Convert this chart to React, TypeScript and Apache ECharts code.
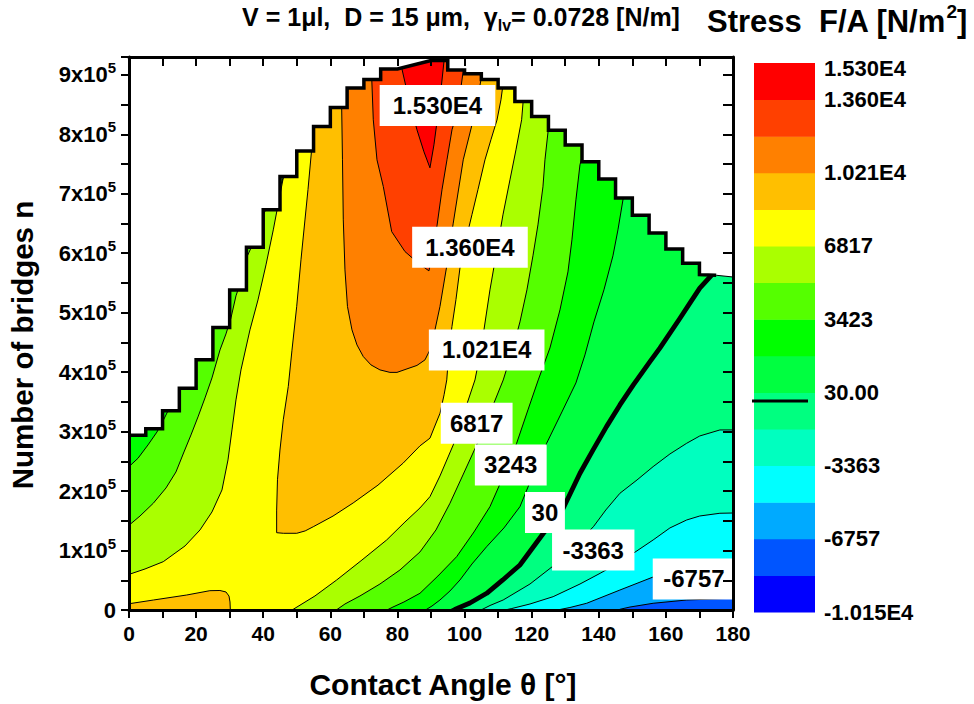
import React, { useEffect, useRef } from "react";
import * as echarts from "echarts";

type Pt = [number, number];

const FONT = "'Liberation Sans', Arial, Helvetica, sans-serif";

// ---------------- axes ----------------
const thetaRange = [0, 180];
const nRange = [0, 9.3]; // number of bridges, units of 10^5

// ---------------- colour levels (Stress F/A, N/m^2) ----------------
const levelEdges = [-10150, -8453, -6757, -5060, -3363, -1667, 30, 1727, 3423, 5120, 6817, 8513, 10210, 11907, 13603, 15300];
const bandColors = ["#0000FF", "#0055FF", "#00AAFF", "#00FFFF", "#00FFBF", "#00FF80", "#00FF40", "#00FF00", "#55FF00", "#AAFF00", "#FFFF00", "#FFBF00", "#FF8000", "#FF4000", "#FF0000"];
const colorbarTickValues = [15300, 13603, 10210, 6817, 3423, 30, -3363, -6757, -10150];
const colorbarTickLabels = ["1.530E4", "1.360E4", "1.021E4", "6817", "3423", "30.00", "-3363", "-6757", "-1.015E4"];

// ---------------- upper limit of the computed domain [theta, n] ----------------
const dataLimit: Pt[] = [
  [0, 2.94], [5, 2.94], [5, 3.05], [10, 3.05], [10, 3.35], [15, 3.35], [15, 3.73], [20, 3.73], [20, 4.21], [25, 4.21],
  [25, 4.75], [30, 4.75], [30, 5.38], [35, 5.38], [35, 6.1], [40, 6.1], [40, 6.73], [45, 6.73], [45, 7.29], [50, 7.29],
  [50, 7.72], [55, 7.72], [55, 8.13], [60, 8.13], [60, 8.45], [65, 8.45], [65, 8.78], [70, 8.78], [70, 8.92], [75, 8.92],
  [75, 9.1], [80, 9.1], [90, 9.24], [95, 9.24], [95, 9.08], [100, 9.08], [100, 9.02], [105, 9.02], [105, 8.92], [110, 8.92],
  [110, 8.78], [115, 8.78], [115, 8.55], [120, 8.55], [120, 8.3], [125, 8.3], [125, 8.07], [130, 8.07], [130, 7.82], [135, 7.82],
  [135, 7.54], [140, 7.54], [140, 7.25], [145, 7.25], [145, 6.93], [150, 6.93], [150, 6.64], [155, 6.64], [155, 6.34], [160, 6.34],
  [160, 6.07], [165, 6.07], [165, 5.83], [170, 5.83], [170, 5.64], [175, 5.63], [180, 5.6],
];

// ---------------- contour lines [theta, n] ----------------
const isoMinus6757: Pt[] = [[180.9, 0.202], [179.6, 0.197], [166.2, 0.168], [156.2, 0.113], [149.3, 0.05], [146.3, 0.012], [143.9, -0.05]];
const isoMinus5060: Pt[] = [[180.9, 0.808], [176.1, 0.774], [170.1, 0.707], [164.2, 0.639], [156.2, 0.555], [146.3, 0.336], [136.4, 0.113], [131.4, 0.042], [128.4, 0.008], [125.5, -0.05]];
const isoMinus3363: Pt[] = [[180.9, 1.632], [176.1, 1.627], [170.1, 1.581], [166.2, 1.514], [161.2, 1.38], [156.2, 1.178], [150.3, 0.954], [144.8, 0.757], [140.4, 0.617], [134.4, 0.437], [126.4, 0.224], [119.5, 0.101], [114.1, 0.025], [110.6, -0.017], [107.6, -0.067]];
const isoMinus1667: Pt[] = [[180.9, 3.028], [176.1, 3.028], [170.1, 2.927], [166.2, 2.804], [161.2, 2.624], [156.2, 2.411], [151.4, 2.187], [146.3, 1.963], [142.1, 1.682], [138.4, 1.401], [132.9, 1.077], [126.4, 0.74], [119.5, 0.437], [111.5, 0.168], [107.6, 0.076], [105.2, 0.008], [103.1, -0.05]];
const iso30: Pt[] = [[175.2, 5.73], [172.0, 5.53], [170.1, 5.412], [167.2, 5.165], [164.2, 4.907], [158.2, 4.403], [155.2, 4.172], [150.3, 3.785], [146.3, 3.449], [142.3, 3.084], [138.3, 2.692], [134.4, 2.3], [129.4, 1.711], [123.5, 1.29], [116.5, 0.757], [111.4, 0.505], [106.6, 0.281], [101.6, 0.118], [97.1, 0.008], [95.1, -0.05]];
const iso1727: Pt[] = [[148.39, 7.099], [147.29, 6.926], [145.71, 6.393], [144.22, 5.956], [141.54, 5.384], [138.56, 4.845], [135.88, 4.29], [133.19, 3.819], [129.02, 3.331], [124.46, 2.804], [120.38, 2.271], [116.51, 1.738], [111.74, 1.38], [106.59, 1.065], [102.21, 0.774], [98.63, 0.505], [95.65, 0.32], [92.67, 0.168], [90.29, 0.067], [88.71, 0.012], [87.01, -0.05]];
const iso3423Left: Pt[] = [[-0.5, 2.384], [2.68, 2.552], [5.66, 2.776], [8.34, 2.994], [10.13, 3.18], [11.62, 3.348], [12.81, 3.5]];
const iso3423Right: Pt[] = [[135.58, 7.739], [134.39, 7.487], [133.19, 6.898], [132.0, 6.225], [130.81, 5.686], [128.43, 5.047], [125.45, 4.408], [121.96, 3.869], [118.89, 3.365], [115.52, 2.804], [111.74, 2.271], [107.57, 1.738], [102.8, 1.312], [97.65, 0.897], [92.07, 0.572], [86.71, 0.281], [81.94, 0.135], [78.67, 0.05], [76.88, 0.0], [75.39, -0.05]];
const iso5120Left: Pt[] = [[-0.5, 1.401], [3.28, 1.581], [7.24, 1.795], [11.03, 2.052], [14.0, 2.322], [16.39, 2.658], [18.47, 2.944], [20.56, 3.247], [22.65, 3.567], [24.73, 3.903], [27.12, 4.374], [28.9, 4.643], [30.39, 4.913], [31.88, 5.283], [33.08, 5.485], [35.01, 5.922], [36.65, 6.124], [38.44, 6.393], [40.02, 6.645], [42.01, 6.881], [45.4, 7.17], [46.19, 7.318], [48.57, 7.604]];
const iso5120Right: Pt[] = [[125.75, 8.277], [124.94, 8.075], [123.96, 7.571], [123.36, 7.116], [121.87, 6.477], [120.38, 5.956], [118.59, 5.384], [116.51, 4.845], [114.12, 4.341], [111.53, 3.869], [107.57, 3.314], [103.61, 2.776], [99.52, 2.271], [95.65, 1.795], [91.48, 1.346], [86.71, 0.976], [80.75, 0.673], [74.79, 0.437], [68.83, 0.236], [64.36, 0.101], [61.98, 0.008], [60.19, -0.05]];
const iso6817Left: Pt[] = [[-0.5, 0.589], [4.77, 0.69], [10.22, 0.813], [16.69, 1.077], [21.16, 1.346], [24.73, 1.649], [27.71, 2.019], [29.5, 2.524], [30.69, 3.028], [31.88, 3.533], [33.37, 4.038], [36.05, 4.711], [38.44, 5.215], [40.82, 5.804], [43.0, 6.393], [44.7, 6.898], [45.98, 7.268], [46.48, 7.487]];
const iso6817Right: Pt[] = [[117.7, 8.715], [117.01, 8.244], [115.32, 7.739], [113.53, 7.234], [111.44, 6.645], [109.65, 6.057], [107.57, 5.384], [105.78, 4.711], [104.29, 4.206], [103.1, 3.869], [99.82, 3.314], [96.63, 2.776], [92.67, 2.254], [89.69, 1.906], [86.71, 1.716], [82.24, 1.48], [76.79, 1.178], [69.43, 0.841], [61.89, 0.505], [55.42, 0.236], [48.96, 0.012], [47.38, -0.067]];
const iso8513: Pt[] = [[54.6, 7.85], [53.34, 7.07], [52.44, 6.56], [51.25, 5.89], [49.97, 5.1], [48.57, 4.37], [47.47, 3.76], [45.98, 3.2], [44.99, 2.69], [44.25, 2.19], [44.0, 1.68], [44.0, 1.3], [46.0, 1.29], [50.0, 1.29], [52.5, 1.33], [54.9, 1.4], [60.8, 1.58], [66.8, 1.8], [74.2, 2.1], [81.7, 2.47], [86.7, 2.76], [89.7, 2.89], [90.9, 3.06], [92.7, 3.31], [93.9, 3.62], [94.7, 3.87], [95.35, 4.37], [96.25, 4.77], [97.44, 5.22], [98.63, 5.75], [100.42, 6.23], [102.21, 6.65], [104.0, 7.07], [106.08, 7.57], [107.87, 7.91], [109.66, 8.24], [110.85, 8.58], [111.44, 8.83]];
const iso8513Corner: Pt[] = [[-0.5, 0.101], [7.3, 0.168], [17.2, 0.252], [24.1, 0.325], [27.1, 0.328], [28.9, 0.303], [29.8, 0.235], [30.1, 0.135], [30.2, 0.0], [30.2, -0.05]];
const iso10210: Pt[] = [[63.3, 8.6], [63.38, 8.445], [63.62, 7.571], [63.86, 6.561], [64.36, 5.72], [65.11, 5.103], [66.45, 4.711], [67.94, 4.458], [69.82, 4.262], [72.11, 4.122], [74.79, 4.038], [77.77, 3.996], [79.86, 3.996], [82.84, 4.055], [85.82, 4.113], [88.2, 4.206], [89.69, 4.374], [91.18, 4.711], [92.67, 5.103], [94.67, 5.776], [96.63, 6.506], [99.61, 7.571], [102.59, 8.244], [103.99, 8.631], [104.89, 8.917], [105.2, 9.12]];
const iso11907: Pt[] = [[72.3, 9.0], [72.8, 8.244], [73.9, 7.571], [75.78, 7.122], [78.28, 6.364], [82.24, 6.028], [86.11, 5.838], [89.39, 5.703], [90.58, 6.057], [91.78, 6.46], [93.27, 7.066], [94.76, 7.571], [96.25, 8.075], [97.14, 8.244], [98.63, 8.664], [99.52, 9.034], [99.82, 9.15]];
const iso13603: Pt[] = [[81.1, 9.3], [81.26, 9.118], [83.43, 8.58], [85.82, 8.075], [87.9, 7.705], [89.69, 7.436], [90.88, 7.823], [92.07, 8.328], [92.97, 8.748], [93.86, 9.219], [94.0, 9.3]];

// ---------------- contour labels (text at a point on the line) ----------------
const contourLabelTexts = ["1.530E4", "1.360E4", "1.021E4", "6817", "3243", "30", "-3363", "-6757"];
const contourLabelPoints: Pt[] = [[91.93, 8.483], [101.61, 6.099], [106.59, 4.374], [103.61, 3.141], [113.77, 2.439], [123.96, 1.64], [138.35, 1.009], [168.36, 0.522]];

// ---------------- geometry helpers (closing polygons outside the plot) ----------------
const FL = -5, FR = 200, FB = -1, FT = 12;
const first = (a: Pt[]) => a[0];
const last = (a: Pt[]) => a[a.length - 1];
const rightOf = (line: Pt[]): Pt[] => [...line, [last(line)[0], FB], [FR, FB], [FR, FT], [first(line)[0], FT]];
const leftOf = (line: Pt[]): Pt[] => [...line, [last(line)[0], FB], [FL, FB], [FL, FT], [first(line)[0], FT]];
const between = (left: Pt[], right: Pt[]): Pt[] => [...left, [last(left)[0], FT], [first(right)[0], FT], ...right, [last(right)[0], FB], [FL, FB], [FL, first(left)[1]]];
const cap = (line: Pt[]): Pt[] => [...line, [last(line)[0], FT], [first(line)[0], FT]];
const corner = (line: Pt[]): Pt[] => [...line, [last(line)[0], FB], [FL, FB], [FL, first(line)[1]]];

type Shape = { kind: "poly" | "line"; pts: Pt[]; color: string; width?: number };

const plotShapes: Shape[] = [
  { kind: "poly", pts: [[FL, FB], [FR, FB], [FR, FT], [FL, FT]], color: bandColors[6] },
  { kind: "poly", pts: rightOf(iso30), color: bandColors[5] },
  { kind: "poly", pts: rightOf(isoMinus1667), color: bandColors[4] },
  { kind: "poly", pts: rightOf(isoMinus3363), color: bandColors[3] },
  { kind: "poly", pts: rightOf(isoMinus5060), color: bandColors[2] },
  { kind: "poly", pts: rightOf(isoMinus6757), color: bandColors[1] },
  { kind: "poly", pts: leftOf(iso1727), color: bandColors[7] },
  { kind: "poly", pts: between(iso3423Left, iso3423Right), color: bandColors[8] },
  { kind: "poly", pts: between(iso5120Left, iso5120Right), color: bandColors[9] },
  { kind: "poly", pts: between(iso6817Left, iso6817Right), color: bandColors[10] },
  { kind: "poly", pts: cap(iso8513), color: bandColors[11] },
  { kind: "poly", pts: corner(iso8513Corner), color: bandColors[11] },
  { kind: "poly", pts: cap(iso10210), color: bandColors[12] },
  { kind: "poly", pts: cap(iso11907), color: bandColors[13] },
  { kind: "poly", pts: cap(iso13603), color: bandColors[14] },
  ...[isoMinus6757, isoMinus5060, isoMinus3363, isoMinus1667, iso1727, iso3423Left, iso3423Right, iso5120Left, iso5120Right,
    iso6817Left, iso6817Right, iso8513, iso8513Corner, iso10210, iso11907, iso13603].map((pts) => ({ kind: "line" as const, pts, color: "#000", width: 1 })),
  { kind: "line", pts: iso30, color: "#000", width: 4.8 },
  // white mask above the computed domain
  { kind: "poly", pts: [[FL, first(dataLimit)[1]], ...dataLimit, [FR, last(dataLimit)[1]], [FR, FT], [FL, FT]], color: "#FFFFFF" },
];

const limitThick = dataLimit.filter((p) => p[0] <= 175);
const limitThin = dataLimit.filter((p) => p[0] >= 175);

export default function App() {
  const ref = useRef<HTMLDivElement>(null);

  useEffect(() => {
    if (!ref.current) return;
    const chart = echarts.init(ref.current, undefined, { renderer: "svg" });

    const cbTop = 63, cbBottom = 612, cbX = 754, cbW = 61;
    const cbY = (v: number) => cbBottom - ((v - levelEdges[0]) / (levelEdges[levelEdges.length - 1] - levelEdges[0])) * (cbBottom - cbTop);

    const colorbar: any[] = bandColors.map((c, i) => ({
      type: "rect",
      shape: { x: cbX, y: cbY(levelEdges[i + 1]), width: cbW, height: cbY(levelEdges[i]) - cbY(levelEdges[i + 1]) + 0.5 },
      style: { fill: c },
    }));
    colorbarTickValues.forEach((v, i) => {
      colorbar.push({
        type: "text",
        x: 824,
        y: cbY(v) + (i === 0 ? 5 : 0),
        style: { text: colorbarTickLabels[i], fill: "#000", fontSize: 22, fontWeight: "bold", fontFamily: FONT, align: "left", verticalAlign: "middle" },
      });
    });
    colorbar.push({ type: "line", shape: { x1: 752, y1: 401, x2: 808, y2: 401 }, style: { stroke: "#000", lineWidth: 3 } });

    const axisCommon = {
      type: "value" as const,
      z: 10,
      splitLine: { show: false },
      axisLine: { show: true, onZero: false, lineStyle: { color: "#000", width: 3 } },
    };

    const option: any = {
      animation: false,
      backgroundColor: "#fff",
      grid: { left: 129, top: 57, width: 604, height: 553, containLabel: false },
      xAxis: [
        {
          ...axisCommon,
          position: "bottom",
          min: thetaRange[0],
          max: thetaRange[1],
          interval: 10,
          axisTick: { show: true, inside: false, length: 8, lineStyle: { color: "#000", width: 2 } },
          axisLabel: {
            show: true,
            interval: 0,
            margin: 13,
            color: "#000",
            fontSize: 21,
            fontWeight: "bold",
            fontFamily: FONT,
            formatter: (v: number) => (Math.round(v) % 20 === 0 ? String(Math.round(v)) : ""),
          },
        },
        {
          ...axisCommon,
          position: "top",
          min: thetaRange[0],
          max: thetaRange[1],
          interval: 10,
          axisTick: { show: true, inside: true, length: 9, lineStyle: { color: "#000", width: 2 } },
          axisLabel: { show: false },
        },
      ],
      yAxis: [
        {
          ...axisCommon,
          position: "left",
          min: nRange[0],
          max: nRange[1],
          interval: 0.5,
          axisTick: { show: true, inside: false, length: 8, lineStyle: { color: "#000", width: 2 } },
          axisLabel: {
            show: true,
            interval: 0,
            margin: 13,
            formatter: (v: number) => {
              const r = Math.round(v);
              if (Math.abs(v - r) > 1e-6 || r > 9) return "";
              return r === 0 ? "{a|0}" : `{a|${r}x10}{b|5}`;
            },
            rich: {
              a: { fontSize: 22, fontWeight: "bold", fontFamily: FONT, color: "#000", lineHeight: 30 },
              b: { fontSize: 15, fontWeight: "bold", fontFamily: FONT, color: "#000", verticalAlign: "top", lineHeight: 15 },
            },
          },
        },
        {
          ...axisCommon,
          position: "right",
          min: nRange[0],
          max: nRange[1],
          interval: 0.5,
          axisTick: { show: true, inside: true, length: 10, lineStyle: { color: "#000", width: 2 } },
          axisLabel: { show: false },
        },
      ],
      graphic: [
        ...colorbar,
        {
          type: "text",
          x: 461,
          y: 17,
          style: {
            text: "{a|V = 1μl,  D = 15 μm,  γ}{s|lv}{a|= 0.0728 [N/m]}",
            align: "center",
            verticalAlign: "middle",
            rich: {
              a: { fontSize: 25, fontWeight: "bold", fontFamily: FONT, fill: "#000", lineHeight: 32 },
              s: { fontSize: 16, fontWeight: "bold", fontFamily: FONT, fill: "#000", verticalAlign: "bottom", lineHeight: 16 },
            },
          },
        },
        {
          type: "text",
          x: 707,
          y: 21,
          style: {
            text: "{a|Stress  F/A [N/m}{b|2}{a|]}",
            align: "left",
            verticalAlign: "middle",
            rich: {
              a: { fontSize: 31, fontWeight: "bold", fontFamily: FONT, fill: "#000", lineHeight: 38 },
              b: { fontSize: 19, fontWeight: "bold", fontFamily: FONT, fill: "#000", verticalAlign: "top", lineHeight: 19 },
            },
          },
        },
        {
          type: "text",
          x: 22,
          y: 345,
          rotation: Math.PI / 2,
          style: { text: "Number of bridges n", fill: "#000", fontSize: 29.5, fontWeight: "bold", fontFamily: FONT, align: "center", verticalAlign: "middle" },
        },
        {
          type: "text",
          x: 443,
          y: 684,
          style: { text: "Contact Angle θ [°]", fill: "#000", fontSize: 30, fontWeight: "bold", fontFamily: FONT, align: "center", verticalAlign: "middle" },
        },
      ],
      series: [
        {
          type: "custom",
          xAxisIndex: 0,
          yAxisIndex: 0,
          clip: true,
          silent: true,
          data: plotShapes.map(() => [90, 4]),
          encode: { x: 0, y: 1 },
          renderItem: (params: any, api: any) => {
            const s = plotShapes[params.dataIndex];
            const points = s.pts.map((p) => api.coord(p));
            if (s.kind === "poly") {
              return { type: "polygon", z2: params.dataIndex, shape: { points }, style: { fill: s.color, stroke: "none" } };
            }
            return { type: "polyline", z2: params.dataIndex, shape: { points }, style: { stroke: s.color, lineWidth: s.width, fill: "none", lineJoin: "round" } };
          },
        },
        {
          type: "custom",
          xAxisIndex: 0,
          yAxisIndex: 0,
          clip: false,
          silent: true,
          z: 3,
          data: [[90, 4]],
          encode: { x: 0, y: 1 },
          renderItem: (params: any, api: any) => {
            const children: any[] = [
              { type: "polyline", shape: { points: limitThick.map((p) => api.coord(p)) }, style: { stroke: "#000", lineWidth: 3.5, fill: "none", lineJoin: "miter" } },
              { type: "polyline", shape: { points: limitThin.map((p) => api.coord(p)) }, style: { stroke: "#000", lineWidth: 1.2, fill: "none" } },
            ];
            contourLabelTexts.forEach((t, i) => {
              const c = api.coord(contourLabelPoints[i]);
              const padX = 4 + 1.3 * t.length;
              children.push({
                type: "text",
                x: c[0],
                y: c[1],
                style: {
                  text: t,
                  fill: "#000",
                  fontSize: 24,
                  fontWeight: "bold",
                  fontFamily: FONT,
                  align: "center",
                  verticalAlign: "middle",
                  backgroundColor: "#fff",
                  padding: [9, padX, 8, padX],
                },
              });
            });
            return { type: "group", children };
          },
        },
      ],
    };

    chart.setOption(option);
    return () => chart.dispose();
  }, []);

  return <div ref={ref} style={{ position: "absolute", left: 0, top: 0, width: 974, height: 704, background: "#fff" }} />;
}
